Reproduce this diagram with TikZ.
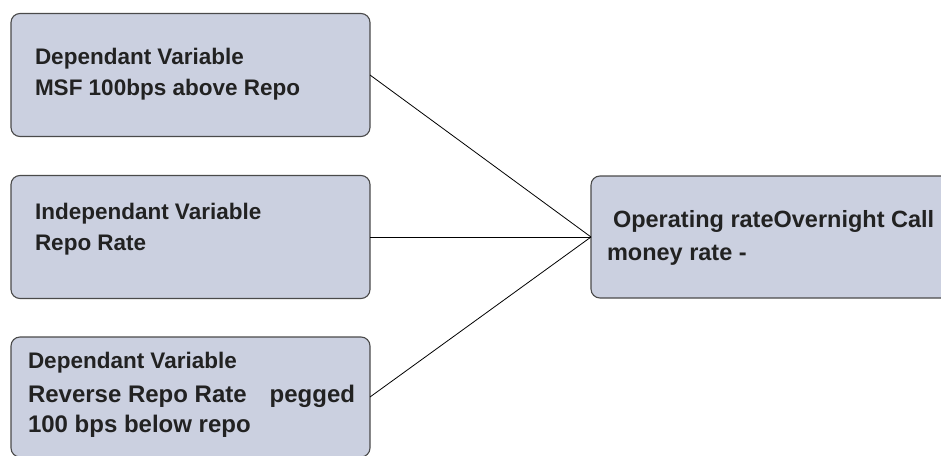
\documentclass[tikz,border=0pt]{standalone}
\usepackage{fontspec}
\setmainfont{Liberation Sans}
\usetikzlibrary{positioning}
\definecolor{boxfill}{HTML}{CBD0E0}
\definecolor{boxline}{HTML}{4A4A4A}
\definecolor{txtcol}{HTML}{222222}

\begin{document}
\begin{tikzpicture}[x=1pt, y=-1pt,
    every node/.style={inner sep=0pt, outer sep=0pt},
    box/.style={draw=boxline, fill=boxfill, line width=1.1pt, rounded corners=9pt,
        minimum width=359pt, minimum height=123pt},
    lbl/.style={anchor=base west, align=left, text=txtcol,
        font=\fontsize{22.5}{31}\bfseries\selectfont},
    link/.style={line width=0.8pt}]
    \useasboundingbox (0,0) rectangle (941,455);
    \begin{scope}
    \clip (0,0) rectangle (941,455);
    % boxes
    \node[box] (dep1) at (190.5,75) {};
    \node[box] (indep) at (190.5,237) {};
    \node[box, minimum height=120pt] (dep2) at (190.5,397) {};
    \node[box, minimum width=369pt, minimum height=122pt] (oper) at (775.5,237) {};
    % texts (anchored at last line)
    \node[lbl] (dep1txt) at (35,95) {Dependant Variable\\MSF 100bps above Repo};
    \node[lbl] (indeptxt) at (35,250) {Independant Variable\\Repo Rate};
    \node[lbl] (dep2txt) at (28,432) {Dependant Variable\\[3pt]
        {\fontsize{24}{24}\selectfont Reverse Repo Rate\hspace{23pt}pegged}\\[-1pt]
        {\fontsize{24}{24}\selectfont 100 bps below repo}};
    \node[lbl, font=\fontsize{23.5}{33}\bfseries\selectfont] (opertxt) at (607,260)
        {\hspace{6pt}Operating rateOvernight Call\\money rate -};
    % links
    \draw[link] (dep1.east) -- (oper.west);
    \draw[link] (indep.east) -- (oper.west);
    \draw[link] (dep2.east) -- (oper.west);
    \end{scope}
\end{tikzpicture}
\end{document}
